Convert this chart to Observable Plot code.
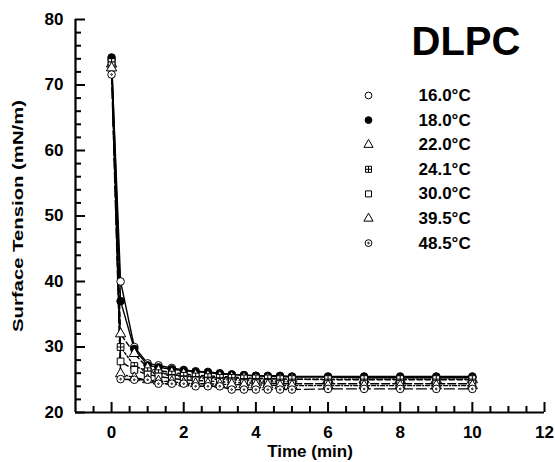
<!DOCTYPE html>
<html><head><meta charset="utf-8">
<script src="https://cdn.jsdelivr.net/npm/d3@7"></script>
<script src="https://cdn.jsdelivr.net/npm/@observablehq/plot@0.6"></script>
<style>body{margin:0;background:#fff}</style>
</head><body><div id="chart"></div>
<script>
// ---- data ----
const times = [0, 0.25, 0.63, 1.0, 1.3, 1.67, 2.0, 2.33, 2.67, 3.0, 3.33, 3.67, 4.0, 4.33, 4.67, 5, 6, 7, 8, 9, 10];
const labels = ["16.0°C", "18.0°C", "22.0°C", "24.1°C", "30.0°C", "39.5°C", "48.5°C"];
const s16_0 = [73.8, 40.0, 30.0, 27.5, 27.2, 26.8, 26.5, 26.3, 26.2, 26.0, 25.8, 25.7, 25.6, 25.5, 25.5, 25.4, 25.4, 25.3, 25.3, 25.3, 25.3];
const s18_0 = [74.2, 37.0, 29.7, 27.2, 26.9, 26.6, 26.4, 26.2, 26.1, 25.9, 25.8, 25.7, 25.6, 25.6, 25.6, 25.5, 25.5, 25.5, 25.5, 25.5, 25.5];
const s22_0 = [73.2, 32.0, 29.0, 26.8, 26.4, 26.1, 25.9, 25.7, 25.6, 25.5, 25.4, 25.3, 25.2, 25.2, 25.1, 25.1, 25.0, 25.0, 25.0, 25.0, 25.0];
const s24_1 = [73.5, 30.0, 27.1, 26.3, 26.0, 25.8, 25.6, 25.5, 25.4, 25.3, 25.3, 25.2, 25.2, 25.2, 25.1, 25.1, 25.1, 25.1, 25.1, 25.1, 25.1];
const s30_0 = [73.0, 27.8, 26.5, 25.8, 25.5, 25.2, 25.0, 24.9, 24.8, 24.7, 24.6, 24.5, 24.5, 24.5, 24.4, 24.4, 24.4, 24.4, 24.4, 24.4, 24.4];
const s39_5 = [72.6, 25.9, 25.3, 25.0, 24.8, 24.7, 24.5, 24.4, 24.4, 24.3, 24.3, 24.2, 24.2, 24.2, 24.1, 24.1, 24.1, 24.1, 24.1, 24.1, 24.1];
const s48_5 = [71.6, 25.1, 25.0, 25.0, 24.4, 24.4, 24.4, 24.0, 24.0, 24.0, 23.5, 23.5, 23.5, 23.5, 23.5, 23.5, 23.6, 23.6, 23.6, 23.6, 23.6];
const seriesValues = [s16_0, s18_0, s22_0, s24_1, s30_0, s39_5, s48_5];
const yMajor = d3.range(20, 81, 10);
const yMinor = d3.range(20, 81, 2).filter(v => v % 10 !== 0);
const xMajor = d3.range(0, 13, 2);
const xMinor = d3.range(-0.5, 12.01, 0.5).filter(v => v % 2 !== 0);

// ---- symbols / styles ----
const squareCross = {draw(ctx, size) {
  const h = Math.sqrt(size) / 2;
  ctx.moveTo(-h, -h); ctx.lineTo(h, -h); ctx.lineTo(h, h); ctx.lineTo(-h, h); ctx.closePath();
  ctx.moveTo(0, -h); ctx.lineTo(0, h); ctx.moveTo(-h, 0); ctx.lineTo(h, 0);
}};
const circleDot = {draw(ctx, size) {
  const r = Math.sqrt(size / Math.PI);
  ctx.moveTo(r, 0); ctx.arc(0, 0, r, 0, 2 * Math.PI);
  ctx.moveTo(0.8, 0); ctx.arc(0, 0, 0.8, 0, 2 * Math.PI);
}};
const styles = [
  {symbol: "circle", fill: "white", dash: null},
  {symbol: "circle", fill: "black", dash: null},
  {symbol: "triangle", fill: "white", dash: "5,3"},
  {symbol: squareCross, fill: "white", dash: "2,2"},
  {symbol: "square", fill: "white", dash: "8,3"},
  {symbol: "triangle", fill: "white", dash: "4,2,1,2"},
  {symbol: circleDot, fill: "white", dash: "10,4"}
];

const W = 555, H = 462, mL = 75, mR = 11, mT = 19, mB = 50;
const plotW = W - mL - mR, plotH = H - mT - mB;

const marks = [];
seriesValues.forEach((vals, i) => {
  const rows = times.map((t, j) => ({t, v: vals[j]}));
  marks.push(Plot.line(rows, {x: "t", y: "v", stroke: "black", strokeWidth: 1.4, strokeDasharray: styles[i].dash}));
});
seriesValues.forEach((vals, i) => {
  const rows = times.map((t, j) => ({t, v: vals[j]}));
  marks.push(Plot.dot(rows, {x: "t", y: "v", r: 3.8, symbol: styles[i].symbol, fill: styles[i].fill, stroke: "black", strokeWidth: 1}));
});
// legend
labels.forEach((lab, i) => {
  const dy = 76 + i * 24.6;
  marks.push(Plot.dot([lab], {frameAnchor: "top-left", dx: 293, dy, r: 3.4, symbol: styles[i].symbol, fill: styles[i].fill, stroke: "black", strokeWidth: 1}));
  marks.push(Plot.text([lab], {frameAnchor: "top-left", dx: 343, dy, textAnchor: "start", lineAnchor: "middle", fontSize: 17, fontWeight: "bold"}));
});
// title
marks.push(Plot.text(["DLPC"], {frameAnchor: "top-left", dx: 336, dy: 22.5, textAnchor: "start", lineAnchor: "middle", fontSize: 40, fontWeight: "bold"}));
// axes
marks.push(Plot.tickY(yMajor, {y: d => d, insetRight: plotW - 10, strokeWidth: 2}));
marks.push(Plot.tickY(yMinor, {y: d => d, insetRight: plotW - 6, strokeWidth: 2}));
marks.push(Plot.tickX(xMajor, {x: d => d, insetTop: plotH - 10, strokeWidth: 2}));
marks.push(Plot.tickX(xMinor, {x: d => d, insetTop: plotH - 6, strokeWidth: 2}));
marks.push(Plot.ruleX([-1], {strokeWidth: 2.2}));
marks.push(Plot.ruleY([20], {strokeWidth: 2.2}));
marks.push(Plot.axisY({ticks: yMajor, tickSize: 0, tickPadding: 12, fontSize: 17, fontWeight: "bold", label: null}));
marks.push(Plot.axisX({ticks: xMajor, tickSize: 0, tickPadding: 13, fontSize: 17, fontWeight: "bold", label: null}));
marks.push(Plot.text(["Surface Tension (mN/m)"], {frameAnchor: "left", dx: -57, rotate: -90, textAnchor: "middle", lineAnchor: "middle", fontSize: 15, fontWeight: "bold"}));
marks.push(Plot.text(["Time (min)"], {frameAnchor: "bottom", dy: 39, textAnchor: "middle", lineAnchor: "middle", fontSize: 17, fontWeight: "bold"}));

const chart = Plot.plot({
  width: W, height: H,
  marginLeft: mL, marginRight: mR, marginTop: mT, marginBottom: mB,
  x: {domain: [-1, 12]},
  y: {domain: [20, 80]},
  style: {fontFamily: "'Liberation Sans', Arial, sans-serif", background: "white", color: "black"},
  marks
});
chart.querySelectorAll("text").forEach(t => {
  if (t.textContent === "Surface Tension (mN/m)") {
    t.setAttribute("textLength", "232");
    t.setAttribute("lengthAdjust", "spacingAndGlyphs");
  }
});
document.getElementById("chart").appendChild(chart);
</script>
</body></html>
